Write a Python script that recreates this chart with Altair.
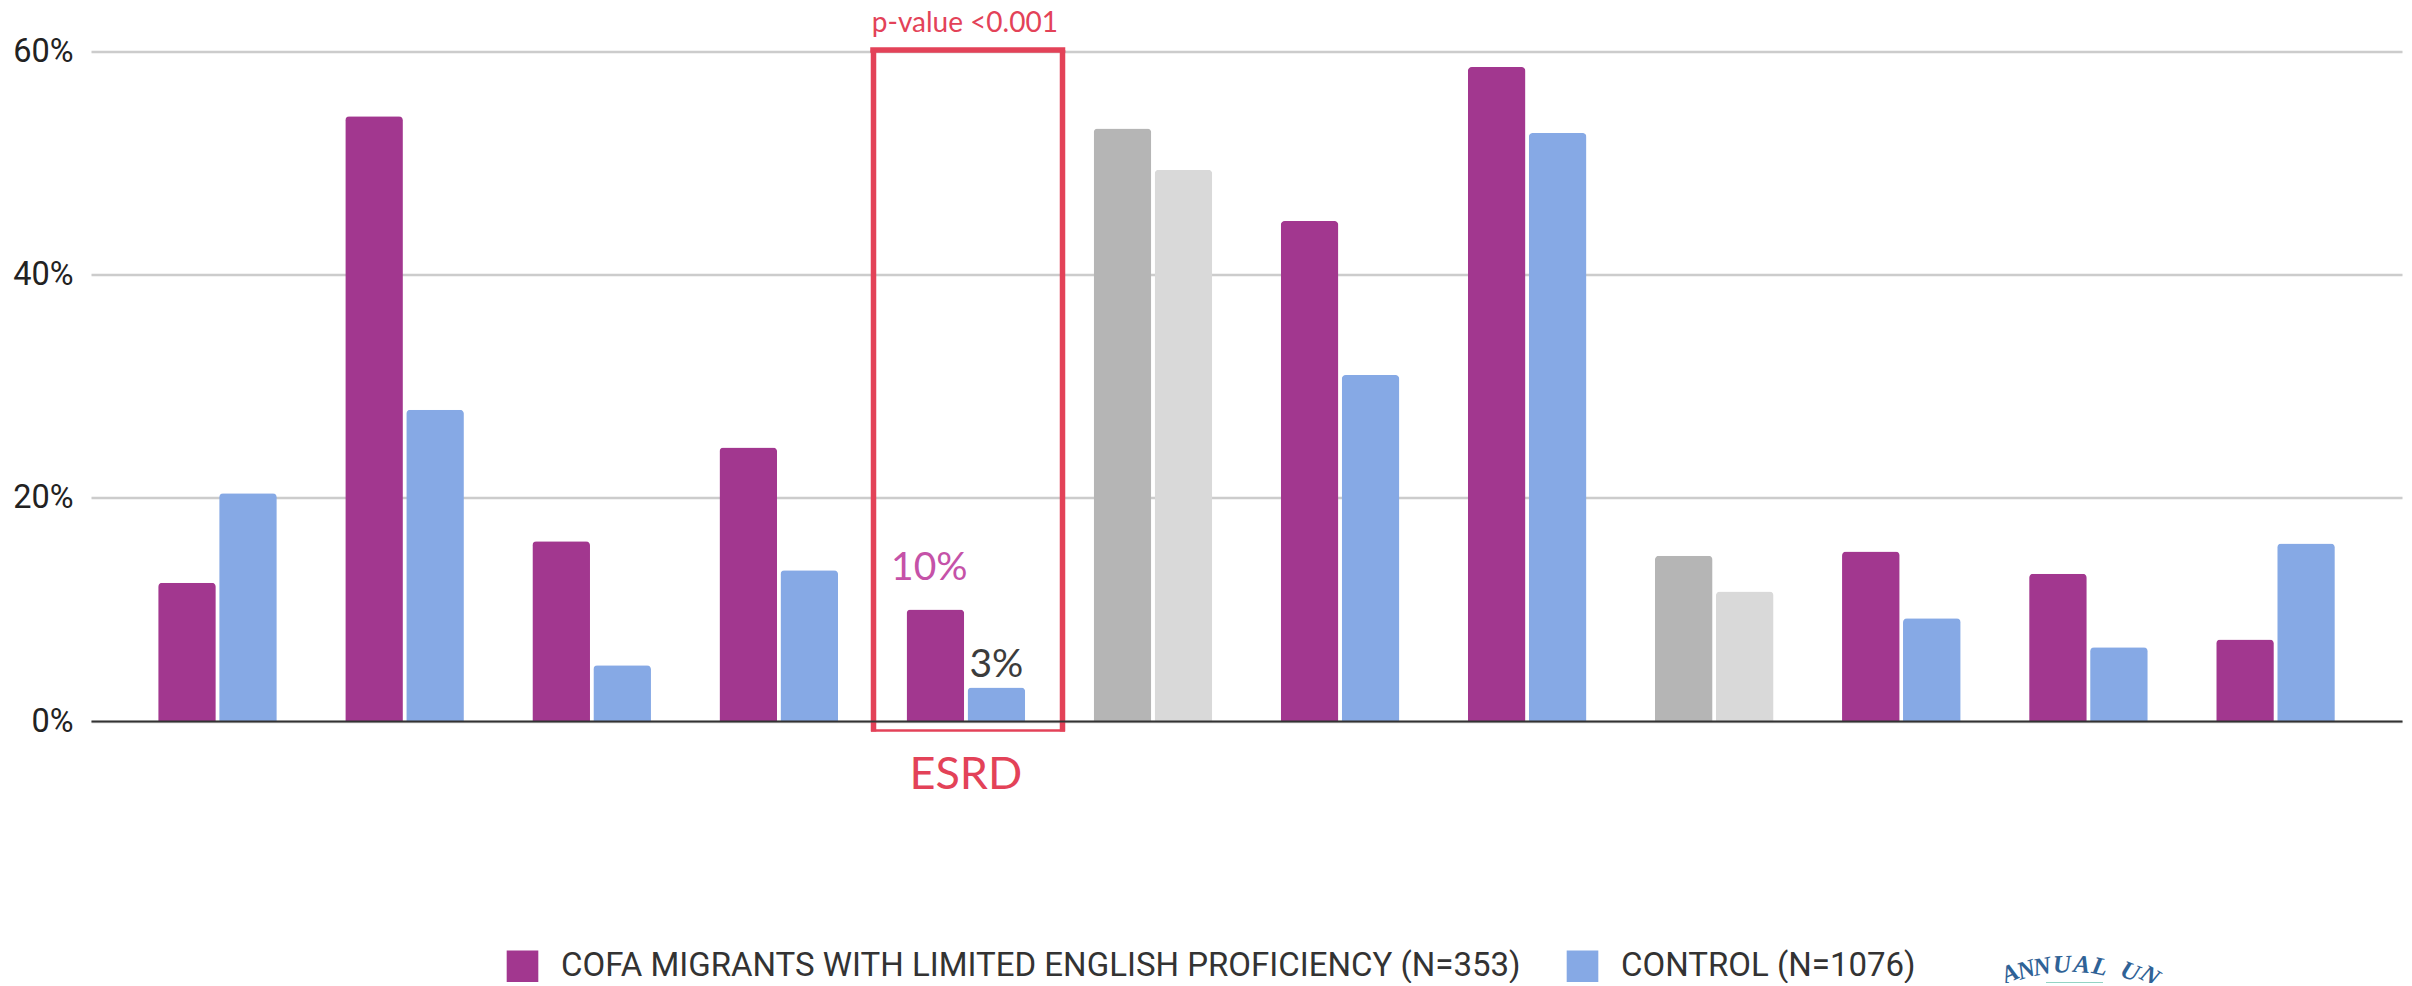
import altair as alt
import pandas as pd

CATEGORIES = ["C01", "C02", "C03", "C04", "ESRD", "C06", "C07", "C08", "C09", "C10", "C11", "C12"]
COFA_VALUES = [12.4, 54.2, 16.1, 24.5, 10, 53.1, 44.8, 58.6, 14.8, 15.2, 13.2, 7.3]
CONTROL_VALUES = [20.4, 27.9, 5.0, 13.5, 3, 49.4, 31.0, 52.7, 11.6, 9.2, 6.6, 15.9]
MUTED_CATEGORIES = ["C06", "C09"]

COFA_LABEL = "COFA MIGRANTS WITH LIMITED ENGLISH PROFICIENCY (N=353)"
CONTROL_LABEL = "CONTROL (N=1076)"
COFA_MUTED = "cofa muted"
CONTROL_MUTED = "control muted"

COLOR_DOMAIN = [COFA_LABEL, CONTROL_LABEL, COFA_MUTED, CONTROL_MUTED]
COLOR_RANGE = ["#A2378F", "#86A9E5", "#B5B5B5", "#D9D9D9"]

RED = "#E34258"
LOGO_BLUE = "#2F6296"
LOGO_LETTERS = ["A", "N", "N", "U", "A", "L", "U", "N"]

rows = []
for cat, a, b in zip(CATEGORIES, COFA_VALUES, CONTROL_VALUES):
    muted = cat in MUTED_CATEGORIES
    rows.append(dict(category=cat, series="cofa", value=a, kind=COFA_MUTED if muted else COFA_LABEL))
    rows.append(dict(category=cat, series="control", value=b, kind=CONTROL_MUTED if muted else CONTROL_LABEL))
df = pd.DataFrame(rows)

x_enc = alt.X(
    "category:N",
    sort=CATEGORIES,
    scale=alt.Scale(domain=CATEGORIES, paddingInner=0.366, paddingOuter=0.359),
    axis=alt.Axis(
        title=None, labels=False, ticks=False, grid=False, domain=True,
        domainColor="#333333", domainWidth=2, zindex=1,
    ),
)
offset_enc = alt.XOffset(
    "series:N",
    scale=alt.Scale(domain=["cofa", "control"], paddingInner=0.055),
)
y_enc = alt.Y(
    "value:Q",
    scale=alt.Scale(domain=[0, 60], nice=False),
    axis=alt.Axis(
        title=None, values=[0, 20, 40, 60], labelExpr="datum.value + '%'",
        labelFont="Roboto", labelFontSize=32.5, labelColor="#222222", labelPadding=18,
        ticks=False, domain=False, grid=True, gridColor="#CCCCCC", gridWidth=2.5,
    ),
)

bars = alt.Chart(df).mark_bar(cornerRadiusTopLeft=4, cornerRadiusTopRight=4).encode(
    x=x_enc,
    xOffset=offset_enc,
    y=y_enc,
    color=alt.Color(
        "kind:N",
        scale=alt.Scale(domain=COLOR_DOMAIN, range=COLOR_RANGE),
        legend=alt.Legend(
            values=[COFA_LABEL, CONTROL_LABEL], title=None, orient="none",
            direction="horizontal", columns=2, legendX=415, legendY=898,
            symbolType="square", symbolSize=1000, symbolStrokeWidth=0,
            labelFont="Roboto", labelFontSize=33, labelColor="#333333",
            labelLimit=1300, labelOffset=22, columnPadding=45,
        ),
    ),
)

esrd = df[df.category == "ESRD"].copy()
esrd["label"] = esrd["value"].map(lambda v: f"{v:g}%")

value_cofa = alt.Chart(esrd[esrd.series == "cofa"]).mark_text(
    font="Lato", fontSize=39, color="#C552A8", baseline="alphabetic", dy=-29, dx=-6,
).encode(x=x_enc, xOffset=offset_enc, y=y_enc, text="label:N")

value_control = alt.Chart(esrd[esrd.series == "control"]).mark_text(
    font="Lato", fontSize=39, color="#3C3C3C", baseline="alphabetic", dy=-11,
).encode(x=x_enc, xOffset=offset_enc, y=y_enc, text="label:N")

esrd_label = alt.Chart(pd.DataFrame({"category": ["ESRD"], "label": ["ESRD"]})).mark_text(
    font="Lato", fontSize=45, color=RED, baseline="alphabetic",
).encode(x=x_enc, y=alt.value(737), text="label:N")

p_label = alt.Chart(pd.DataFrame({"category": ["ESRD"], "label": ["p-value <0.001"]})).mark_text(
    font="Lato", fontSize=28, color=RED, baseline="alphabetic", dx=-1,
).encode(x=x_enc, y=alt.value(-20), text="label:N")

# Highlight box round the ESRD group: heavy top and sides, light bottom edge
box_top = alt.Chart().mark_rule(color=RED, strokeWidth=5.5, strokeCap="square").encode(
    x=alt.value(782), x2=alt.value(971.5), y=alt.value(-1.5))
box_left = alt.Chart().mark_rule(color=RED, strokeWidth=5.5).encode(
    x=alt.value(782.5), y=alt.value(-1.5), y2=alt.value(680))
box_right = alt.Chart().mark_rule(color=RED, strokeWidth=5.5).encode(
    x=alt.value(971.5), y=alt.value(-1.5), y2=alt.value(680))
box_bottom = alt.Chart().mark_rule(color=RED, strokeWidth=2.5).encode(
    x=alt.value(780), x2=alt.value(974), y=alt.value(679))

# Seal peeking in at the lower right corner
seal_layers = []
seal_x = [1919, 1935, 1951, 1971, 1991, 2009, 2039, 2059]
seal_y = [922, 918, 915, 913, 913, 915, 920, 924]
seal_a = [335, 342, 350, 358, 5, 12, 22, 30]
for ch, sx, sy, sa in zip(LOGO_LETTERS, seal_x, seal_y, seal_a):
    seal_layers.append(
        alt.Chart().mark_text(
            text=ch, font="Liberation Serif", fontSize=25, fontWeight="bold", fontStyle="italic",
            color=LOGO_BLUE, angle=sa, baseline="middle",
        ).encode(x=alt.value(sx), y=alt.value(sy))
    )
seal_arc = alt.Chart().mark_rule(color="#2BA88A", strokeWidth=4).encode(
    x=alt.value(1955), x2=alt.value(2012), y=alt.value(933))

chart = alt.layer(
    bars, value_cofa, value_control, esrd_label, p_label,
    box_top, box_left, box_right, box_bottom, seal_arc, *seal_layers,
).properties(
    width=2311, height=669.5,
    padding={"left": 91, "top": 51.5, "right": 10, "bottom": 262},
    autosize=alt.AutoSizeParams(type="none"),
    background="white",
).configure_view(stroke=None)

chart.save("out.html", embed_options={"renderer": "svg", "actions": False})
